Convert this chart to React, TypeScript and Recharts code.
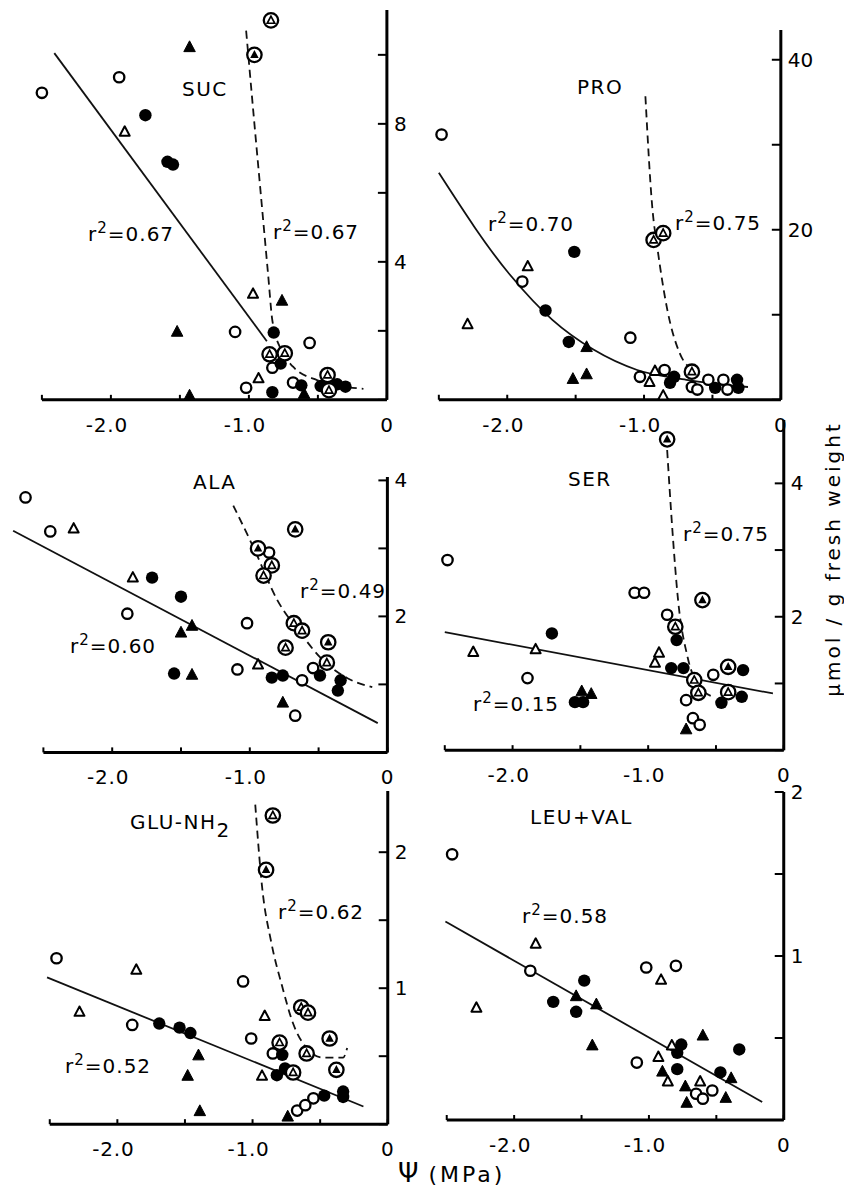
import { ComposedChart, Scatter, Line, XAxis, YAxis, ReferenceLine } from 'recharts';

type Pt = [number, number];

// shared x axis (water potential, MPa)
const X_TICKS = [-2.5, -2, -1.5, -1, -0.5, 0];
const X_LABELS = ['', '-2.0', '', '-1.0', '', '0'];

// SUC
const SUC_OC: Pt[] = [[-2.5, 8.9], [-1.94, 9.35], [-1.1, 1.97], [-1.02, 0.35], [-0.56, 1.65], [-0.83, 0.93], [-0.68, 0.5]];
const SUC_FC: Pt[] = [[-1.75, 8.25], [-1.59, 6.9], [-1.55, 6.82], [-0.82, 1.95], [-0.83, 0.22], [-0.77, 1.05], [-0.62, 0.42], [-0.48, 0.4], [-0.36, 0.45], [-0.3, 0.38]];
const SUC_OT: Pt[] = [[-1.9, 7.75], [-0.97, 3.05], [-0.93, 0.6]];
const SUC_FT: Pt[] = [[-1.43, 10.2], [-1.52, 1.95], [-1.43, 0.1], [-0.76, 2.85], [-0.6, 0.15]];
const SUC_CT: Pt[] = [[-0.84, 11.0], [-0.85, 1.32], [-0.74, 1.35], [-0.43, 0.72], [-0.42, 0.28]];
const SUC_CFT: Pt[] = [[-0.96, 10.0]];
const SUC_FIT: Pt[] = [[-2.41, 10.05], [-0.87, 1.7]];
const SUC_CURVE: Pt[] = [[-1.02, 10.7], [-0.96, 8.0], [-0.91, 5.8], [-0.86, 3.6], [-0.83, 2.3], [-0.76, 1.4], [-0.68, 0.96], [-0.51, 0.58], [-0.17, 0.32]];
const SUC_Y_TICKS = [0, 2, 4, 6, 8, 10];
const SUC_Y_LABELS = ['', '', '4', '', '8', ''];

// PRO
const PRO_OC: Pt[] = [[-2.48, 31.2], [-1.89, 13.9], [-1.1, 7.3], [-1.03, 2.7], [-0.85, 3.5], [-0.65, 1.5], [-0.61, 1.2], [-0.53, 2.35], [-0.42, 2.35], [-0.39, 1.2]];
const PRO_FC: Pt[] = [[-1.51, 17.4], [-1.72, 10.5], [-1.55, 6.8], [-0.78, 2.7], [-0.81, 2.0], [-0.48, 1.4], [-0.32, 2.35], [-0.31, 1.4]];
const PRO_OT: Pt[] = [[-1.85, 15.6], [-2.29, 8.8], [-0.96, 2.0], [-0.86, 0.4], [-0.92, 3.3]];
const PRO_FT: Pt[] = [[-1.42, 6.1], [-1.52, 2.35], [-1.42, 2.9]];
const PRO_CT: Pt[] = [[-0.93, 18.8], [-0.86, 19.6], [-0.65, 3.3]];
const PRO_FIT: Pt[] = [[-2.5, 26.7], [-1.98, 14.7], [-1.67, 9.4], [-1.37, 5.9], [-1.05, 3.5], [-0.69, 2.35], [-0.24, 1.5]];
const PRO_CURVE: Pt[] = [[-0.99, 35.7], [-0.94, 22.7], [-0.9, 17.6], [-0.83, 10.6], [-0.74, 5.5], [-0.64, 3.5]];
const PRO_Y_TICKS = [0, 10, 20, 30, 40];
const PRO_Y_LABELS = ['', '', '20', '', '40'];

// ALA
const ALA_OC: Pt[] = [[-2.63, 3.75], [-2.45, 3.25], [-1.89, 2.04], [-1.09, 1.22], [-1.02, 1.9], [-0.67, 0.54], [-0.62, 1.06], [-0.86, 2.94], [-0.54, 1.24]];
const ALA_FC: Pt[] = [[-1.71, 2.57], [-1.5, 2.29], [-1.55, 1.16], [-0.84, 1.1], [-0.76, 1.13], [-0.49, 1.13], [-0.34, 1.06], [-0.36, 0.91]];
const ALA_OT: Pt[] = [[-2.28, 3.28], [-1.85, 2.56], [-0.94, 1.28]];
const ALA_FT: Pt[] = [[-1.42, 1.85], [-1.5, 1.75], [-1.42, 1.13], [-0.76, 0.72]];
const ALA_CT: Pt[] = [[-0.84, 2.75], [-0.9, 2.6], [-0.68, 1.9], [-0.62, 1.79], [-0.74, 1.54], [-0.44, 1.32]];
const ALA_CFT: Pt[] = [[-0.67, 3.28], [-0.94, 3.0], [-0.43, 1.62]];
const ALA_FIT: Pt[] = [[-2.72, 3.26], [-0.07, 0.43]];
const ALA_CURVE: Pt[] = [[-1.12, 3.63], [-0.97, 3.0], [-0.8, 2.24], [-0.63, 1.75], [-0.49, 1.4], [-0.29, 1.09], [-0.11, 0.96]];
const ALA_Y_TICKS = [0, 1, 2, 3, 4];
const ALA_Y_LABELS = ['', '', '2', '', '4'];

// SER
const SER_OC: Pt[] = [[-2.48, 2.85], [-1.89, 1.08], [-1.1, 2.36], [-1.03, 2.36], [-0.86, 2.03], [-0.52, 1.13], [-0.72, 0.75], [-0.67, 0.48], [-0.62, 0.38]];
const SER_FC: Pt[] = [[-1.71, 1.75], [-1.54, 0.72], [-1.48, 0.72], [-0.79, 1.65], [-0.83, 1.23], [-0.74, 1.23], [-0.3, 1.2], [-0.31, 0.8], [-0.46, 0.71]];
const SER_OT: Pt[] = [[-2.29, 1.46], [-1.83, 1.5], [-0.92, 1.45], [-0.95, 1.3]];
const SER_FT: Pt[] = [[-1.49, 0.87], [-1.42, 0.83], [-0.72, 0.3]];
const SER_CT: Pt[] = [[-0.8, 1.85], [-0.66, 1.05], [-0.63, 0.86], [-0.41, 0.87]];
const SER_CFT: Pt[] = [[-0.86, 4.66], [-0.6, 2.25], [-0.41, 1.25]];
const SER_FIT: Pt[] = [[-2.5, 1.77], [-0.08, 0.85]];
const SER_CURVE: Pt[] = [[-0.86, 4.5], [-0.82, 3.26], [-0.78, 2.26], [-0.71, 1.4], [-0.62, 0.95], [-0.52, 0.8]];
const SER_Y_TICKS = [0, 1, 2, 3, 4];
const SER_Y_LABELS = ['', '', '2', '', '4'];

// GLU-NH2
const GLU_OC: Pt[] = [[-2.45, 1.22], [-1.89, 0.73], [-1.07, 1.05], [-1.01, 0.63], [-0.85, 0.52], [-0.67, 0.1], [-0.61, 0.14], [-0.55, 0.19]];
const GLU_FC: Pt[] = [[-1.69, 0.74], [-1.54, 0.71], [-1.46, 0.67], [-0.78, 0.51], [-0.82, 0.36], [-0.76, 0.41], [-0.47, 0.21], [-0.33, 0.24], [-0.33, 0.2]];
const GLU_OT: Pt[] = [[-1.86, 1.13], [-2.28, 0.82], [-0.91, 0.79], [-0.93, 0.35]];
const GLU_FT: Pt[] = [[-1.4, 0.5], [-1.48, 0.35], [-1.39, 0.09], [-0.74, 0.05]];
const GLU_CT: Pt[] = [[-0.85, 2.27], [-0.8, 0.6], [-0.7, 0.38], [-0.64, 0.86], [-0.59, 0.82], [-0.6, 0.52]];
const GLU_CFT: Pt[] = [[-0.9, 1.87], [-0.43, 0.63], [-0.38, 0.4]];
const GLU_FIT: Pt[] = [[-2.52, 1.08], [-0.18, 0.13]];
const GLU_CURVE: Pt[] = [[-0.98, 2.35], [-0.93, 1.75], [-0.86, 1.33], [-0.78, 1.01], [-0.7, 0.74], [-0.6, 0.56], [-0.48, 0.49], [-0.33, 0.49], [-0.3, 0.56]];
const GLU_Y_TICKS = [0, 0.5, 1, 1.5, 2];
const GLU_Y_LABELS = ['', '', '1', '', '2'];

// LEU+VAL
const LEU_OC: Pt[] = [[-2.46, 1.62], [-1.88, 0.91], [-1.02, 0.93], [-0.8, 0.94], [-1.09, 0.35], [-0.65, 0.16], [-0.6, 0.13], [-0.53, 0.18]];
const LEU_FC: Pt[] = [[-1.71, 0.72], [-1.48, 0.85], [-1.54, 0.66], [-0.76, 0.46], [-0.79, 0.41], [-0.33, 0.43], [-0.79, 0.31], [-0.47, 0.29]];
const LEU_OT: Pt[] = [[-1.84, 1.07], [-2.28, 0.68], [-0.91, 0.85], [-0.83, 0.45], [-0.93, 0.38], [-0.86, 0.23], [-0.62, 0.23]];
const LEU_FT: Pt[] = [[-1.54, 0.75], [-1.39, 0.7], [-1.42, 0.45], [-0.6, 0.51], [-0.9, 0.29], [-0.39, 0.25], [-0.73, 0.2], [-0.43, 0.13], [-0.72, 0.1]];
const LEU_FIT: Pt[] = [[-2.51, 1.21], [-0.16, 0.11]];
const LEU_Y_TICKS = [0, 0.5, 1, 1.5, 2];
const LEU_Y_LABELS = ['', '', '1', '', '2'];

const toXY = (pts: Pt[]) => pts.map(([x, y]) => ({ x, y }));

const tri = (cx: number, cy: number, s: number) =>
  `${cx},${cy - s * 0.62} ${cx - s / 2},${cy + s * 0.32} ${cx + s / 2},${cy + s * 0.32}`;

const MARKERS: Record<string, (p: any) => any> = {
  oc: (p) => <circle cx={p.cx} cy={p.cy} r={5.2} fill="#fff" stroke="#000" strokeWidth={2.3} />,
  fc: (p) => <circle cx={p.cx} cy={p.cy} r={6.2} fill="#000" />,
  ot: (p) => <polygon points={tri(p.cx, p.cy, 10)} fill="#fff" stroke="#000" strokeWidth={2} strokeLinejoin="round" />,
  ft: (p) => <polygon points={tri(p.cx, p.cy, 11.5)} fill="#000" stroke="#000" strokeWidth={1} strokeLinejoin="round" />,
  ct: (p) => (
    <g>
      <circle cx={p.cx} cy={p.cy} r={7.2} fill="#fff" stroke="#000" strokeWidth={2.3} />
      <polygon points={tri(p.cx, p.cy + 0.5, 7.5)} fill="#fff" stroke="#000" strokeWidth={1.7} />
    </g>
  ),
  cft: (p) => (
    <g>
      <circle cx={p.cx} cy={p.cy} r={7.2} fill="#fff" stroke="#000" strokeWidth={2.3} />
      <polygon points={tri(p.cx, p.cy + 0.5, 8.5)} fill="#000" />
    </g>
  ),
};

function XTick(props: any) {
  const { x, y, payload } = props;
  const label = X_LABELS[X_TICKS.indexOf(payload.value)] || '';
  return (
    <g>
      <line x1={x} y1={y} x2={x} y2={y - 5} stroke="#000" strokeWidth={2} />
      {label && (
        <text x={label.startsWith('-') ? x - 4 : x} y={y + 32} textAnchor="middle" fontSize={20} letterSpacing={0.8} fill="#000">
          {label}
        </text>
      )}
    </g>
  );
}

function YTick(props: any) {
  const { x, y, payload, ticks, labels } = props;
  const label = labels[ticks.indexOf(payload.value)] || '';
  return (
    <g>
      <line x1={x - 9} y1={y} x2={x} y2={y} stroke="#000" strokeWidth={2} />
      {label && (
        <text x={x + 7} y={y + 7} textAnchor="start" fontSize={20} fill="#000">
          {label}
        </text>
      )}
    </g>
  );
}

interface PanelProps {
  x0: number; // page x of psi = 0
  y0: number; // page y of value = 0
  xScale: number;
  yScale: number;
  xMin: number;
  yMax: number;
  yTicks: number[];
  yLabels: string[];
  series: { kind: string; pts: Pt[] }[];
  fit: Pt[];
  curve?: Pt[];
}

function Panel({ x0, y0, xScale, yScale, xMin, yMax, yTicks, yLabels, series, fit, curve }: PanelProps) {
  const m = { top: 20, right: 10, bottom: 10, left: 20 };
  const yw = 40;
  const xh = 40;
  const plotW = -xMin * xScale;
  const plotH = yMax * yScale;
  return (
    <div style={{ position: 'absolute', left: x0 - plotW - m.left, top: y0 - plotH - m.top }}>
      <ComposedChart width={m.left + plotW + yw + m.right} height={m.top + plotH + xh + m.bottom} margin={m}>
        <XAxis
          type="number"
          dataKey="x"
          domain={[xMin, 0]}
          ticks={X_TICKS}
          interval={0}
          height={xh}
          axisLine={false}
          tickLine={false}
          tickSize={0}
          tickMargin={0}
          tick={(p: any) => <XTick {...p} />}
        />
        <YAxis
          type="number"
          dataKey="y"
          orientation="right"
          domain={[0, yMax]}
          ticks={yTicks}
          interval={0}
          width={yw}
          axisLine={{ stroke: '#000', strokeWidth: 3 }}
          tickLine={false}
          tickSize={0}
          tickMargin={0}
          tick={(p: any) => <YTick {...p} ticks={yTicks} labels={yLabels} />}
        />
        <ReferenceLine segment={[{ x: -2.5, y: 0 }, { x: 0, y: 0 }]} stroke="#000" strokeWidth={3} />
        <Line data={toXY(fit)} dataKey="y" type="monotone" stroke="#111" strokeWidth={1.8} dot={false} isAnimationActive={false} />
        {curve && (
          <Line data={toXY(curve)} dataKey="y" type="monotone" stroke="#111" strokeWidth={1.8} strokeDasharray="8 5" dot={false} isAnimationActive={false} />
        )}
        {series.map((s) => (
          <Scatter key={s.kind} data={toXY(s.pts)} dataKey="y" shape={MARKERS[s.kind]} isAnimationActive={false} />
        ))}
      </ComposedChart>
    </div>
  );
}

function R2({ x, y, v }: { x: number; y: number; v: string }) {
  return (
    <div style={{ position: 'absolute', left: x, top: y - 13, fontSize: 20, lineHeight: '24px', letterSpacing: 1, whiteSpace: 'nowrap' }}>
      r<span style={{ fontSize: 15, position: 'relative', top: -8 }}>2</span>={v}
    </div>
  );
}

function Title({ x, y, children }: { x: number; y: number; children: any }) {
  return (
    <div style={{ position: 'absolute', left: x, top: y - 13, fontSize: 20, lineHeight: '24px', letterSpacing: 1.5, whiteSpace: 'nowrap' }}>
      {children}
    </div>
  );
}

export default function App() {
  return (
    <div style={{ position: 'absolute', left: 0, top: 0, width: 844, height: 1189, background: '#fff', fontFamily: '"DejaVu Sans", sans-serif', color: '#000', overflow: 'hidden' }}>
      <Panel
        x0={387} y0={400} xScale={138} yScale={34.5} xMin={-2.55} yMax={11.3}
        yTicks={SUC_Y_TICKS} yLabels={SUC_Y_LABELS} fit={SUC_FIT} curve={SUC_CURVE}
        series={[
          { kind: 'oc', pts: SUC_OC }, { kind: 'fc', pts: SUC_FC }, { kind: 'ot', pts: SUC_OT },
          { kind: 'ft', pts: SUC_FT }, { kind: 'ct', pts: SUC_CT }, { kind: 'cft', pts: SUC_CFT },
        ]}
      />
      <Panel
        x0={781} y0={400} xScale={136.8} yScale={8.5} xMin={-2.55} yMax={43.5}
        yTicks={PRO_Y_TICKS} yLabels={PRO_Y_LABELS} fit={PRO_FIT} curve={PRO_CURVE}
        series={[
          { kind: 'oc', pts: PRO_OC }, { kind: 'fc', pts: PRO_FC }, { kind: 'ot', pts: PRO_OT },
          { kind: 'ft', pts: PRO_FT }, { kind: 'ct', pts: PRO_CT },
        ]}
      />
      <Panel
        x0={387} y0={752} xScale={137.6} yScale={68} xMin={-2.75} yMax={4.05}
        yTicks={ALA_Y_TICKS} yLabels={ALA_Y_LABELS} fit={ALA_FIT} curve={ALA_CURVE}
        series={[
          { kind: 'oc', pts: ALA_OC }, { kind: 'fc', pts: ALA_FC }, { kind: 'ot', pts: ALA_OT },
          { kind: 'ft', pts: ALA_FT }, { kind: 'ct', pts: ALA_CT }, { kind: 'cft', pts: ALA_CFT },
        ]}
      />
      <Panel
        x0={784} y0={750} xScale={135.6} yScale={66.7} xMin={-2.55} yMax={4.95}
        yTicks={SER_Y_TICKS} yLabels={SER_Y_LABELS} fit={SER_FIT} curve={SER_CURVE}
        series={[
          { kind: 'oc', pts: SER_OC }, { kind: 'fc', pts: SER_FC }, { kind: 'ot', pts: SER_OT },
          { kind: 'ft', pts: SER_FT }, { kind: 'ct', pts: SER_CT }, { kind: 'cft', pts: SER_CFT },
        ]}
      />
      <Panel
        x0={388} y0={1124} xScale={135.2} yScale={136} xMin={-2.55} yMax={2.45}
        yTicks={GLU_Y_TICKS} yLabels={GLU_Y_LABELS} fit={GLU_FIT} curve={GLU_CURVE}
        series={[
          { kind: 'oc', pts: GLU_OC }, { kind: 'fc', pts: GLU_FC }, { kind: 'ot', pts: GLU_OT },
          { kind: 'ft', pts: GLU_FT }, { kind: 'ct', pts: GLU_CT }, { kind: 'cft', pts: GLU_CFT },
        ]}
      />
      <Panel
        x0={784} y0={1120} xScale={134.8} yScale={164} xMin={-2.55} yMax={2.0}
        yTicks={LEU_Y_TICKS} yLabels={LEU_Y_LABELS} fit={LEU_FIT}
        series={[
          { kind: 'oc', pts: LEU_OC }, { kind: 'fc', pts: LEU_FC }, { kind: 'ot', pts: LEU_OT },
          { kind: 'ft', pts: LEU_FT },
        ]}
      />

      <Title x={182} y={90}>SUC</Title>
      <R2 x={88} y={235} v="0.67" />
      <R2 x={273} y={233} v="0.67" />

      <Title x={577} y={88}>PRO</Title>
      <R2 x={488} y={225} v="0.70" />
      <R2 x={675} y={224} v="0.75" />

      <Title x={193} y={483}>ALA</Title>
      <R2 x={300} y={592} v="0.49" />
      <R2 x={70} y={647} v="0.60" />

      <Title x={568} y={480}>SER</Title>
      <R2 x={683} y={535} v="0.75" />
      <R2 x={473} y={705} v="0.15" />

      <Title x={130} y={823}>
        GLU-NH<span style={{ position: 'relative', top: 8 }}>2</span>
      </Title>
      <R2 x={278} y={913} v="0.62" />
      <R2 x={65} y={1067} v="0.52" />

      <Title x={530} y={818}>LEU+VAL</Title>
      <R2 x={522} y={917} v="0.58" />

      <div style={{ position: 'absolute', left: 673, top: 547, width: 320, textAlign: 'center', fontSize: 20, lineHeight: '24px', letterSpacing: 3, transform: 'rotate(-90deg)', whiteSpace: 'nowrap' }}>
        μmol / g fresh weight
      </div>
      <div style={{ position: 'absolute', left: 398, top: 1158, lineHeight: '30px', whiteSpace: 'nowrap' }}>
        <span style={{ fontSize: 26 }}>Ψ</span>
        <span style={{ fontSize: 22, letterSpacing: 3, marginLeft: 10 }}>(MPa)</span>
      </div>
    </div>
  );
}
